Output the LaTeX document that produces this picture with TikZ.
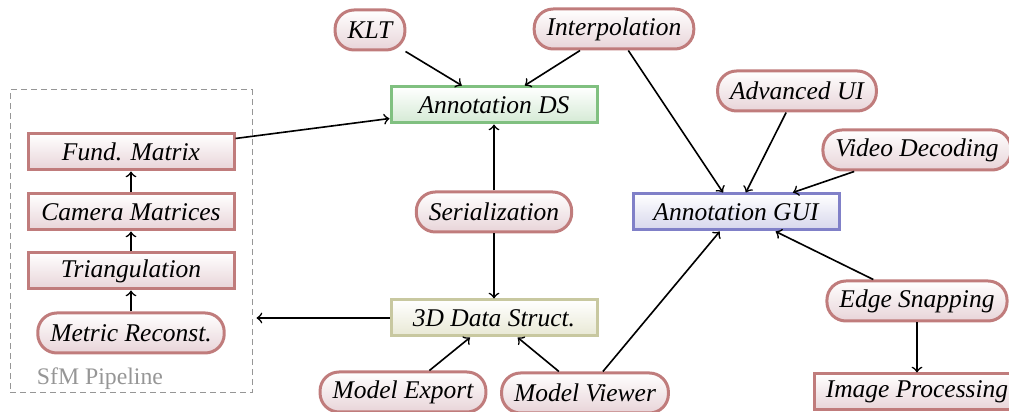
\documentclass[tikz,border=0pt]{standalone}
\usepackage{fontspec}
\setmainfont{Liberation Serif}

\definecolor{redline}{RGB}{192,124,124}
\definecolor{redfill}{RGB}{232,212,216}
\definecolor{greenline}{RGB}{128,192,128}
\definecolor{greenfill}{RGB}{212,234,212}
\definecolor{blueline}{RGB}{128,128,200}
\definecolor{bluefill}{RGB}{214,214,236}
\definecolor{oliveline}{RGB}{200,200,160}
\definecolor{olivefill}{RGB}{232,232,212}
\definecolor{sfmgray}{RGB}{150,150,150}

\tikzset{
  lbl/.style={font=\itshape\fontsize{10.2}{12}\selectfont, text=black},
  stage/.style={lbl, rectangle, draw=redline, line width=1.2pt,
    top color=white, bottom color=redfill,
    minimum width=206*0.4pt, minimum height=36*0.4pt, inner sep=0pt},
  datastage/.style={stage, draw=#1line, bottom color=#1fill},
  pill/.style={lbl, rectangle, rounded corners=7.6pt, draw=redline, line width=1.2pt,
    top color=white, bottom color=redfill,
    minimum height=40*0.4pt, inner xsep=5pt, inner ysep=0pt},
  link/.style={->, line width=0.65pt, black},
  group/.style={rectangle, draw=sfmgray, line width=0.4pt, dash pattern=on 2.4pt off 1.6pt,
    minimum width=242*0.4pt, minimum height=303*0.4pt, inner sep=0pt},
}

\begin{document}
\begin{tikzpicture}[x=0.4pt, y=-0.4pt]
  \useasboundingbox (0,0) rectangle (1009,412);

  % SfM pipeline group
  \node[group] (sfm) at (131,241.5) {};
  \node[font=\fontsize{9.5}{11}\selectfont, text=sfmgray] (sfmlabel) at (100,379) {SfM Pipeline};

  \node[stage] (fund) at (131,152) {Fund. Matrix};
  \node[stage] (cam)  at (131,212) {Camera Matrices};
  \node[stage] (tri)  at (131,271) {Triangulation};
  \node[pill]  (metric) at (131,333) {Metric Reconst.};

  % central data structures
  \node[datastage=green] (ads)  at (494,105) {Annotation DS};
  \node[datastage=olive] (data) at (494,318) {3D Data Struct.};
  \node[datastage=blue]  (gui)  at (736,212) {Annotation GUI};
  \node[stage] (imgproc) at (917,392) {Image Processing};

  % feature pills
  \node[pill] (klt)    at (370,30)  {KLT};
  \node[pill] (interp) at (614,29)  {Interpolation};
  \node[pill] (advui)  at (797,91)  {Advanced UI};
  \node[pill] (video)  at (917,150) {Video Decoding};
  \node[pill] (ser)    at (494,212) {Serialization};
  \node[pill] (edge)   at (917,301) {Edge Snapping};
  \node[pill] (export) at (403,392) {Model Export};
  \node[pill] (viewer) at (585,393) {Model Viewer};

  % connectors
  \draw[link] (metric) -- (tri);
  \draw[link] (tri) -- (cam);
  \draw[link] (cam) -- (fund);
  \draw[link] (fund) -- (ads);
  \draw[link] (klt) -- (ads);
  \draw[link] (interp) -- (ads);
  \draw[link] (interp) -- (gui);
  \draw[link] (advui) -- (gui);
  \draw[link] (video) -- (gui);
  \draw[link] (ser) -- (ads);
  \draw[link] (ser) -- (data);
  \draw[link, shorten >=1.6pt] (data.west) -- (data.west -| sfm.east);
  \draw[link] (export) -- (data);
  \draw[link] (viewer) -- (data);
  \draw[link] (viewer) -- (gui);
  \draw[link] (edge) -- (gui);
  \draw[link] (edge) -- (imgproc);
\end{tikzpicture}
\end{document}
